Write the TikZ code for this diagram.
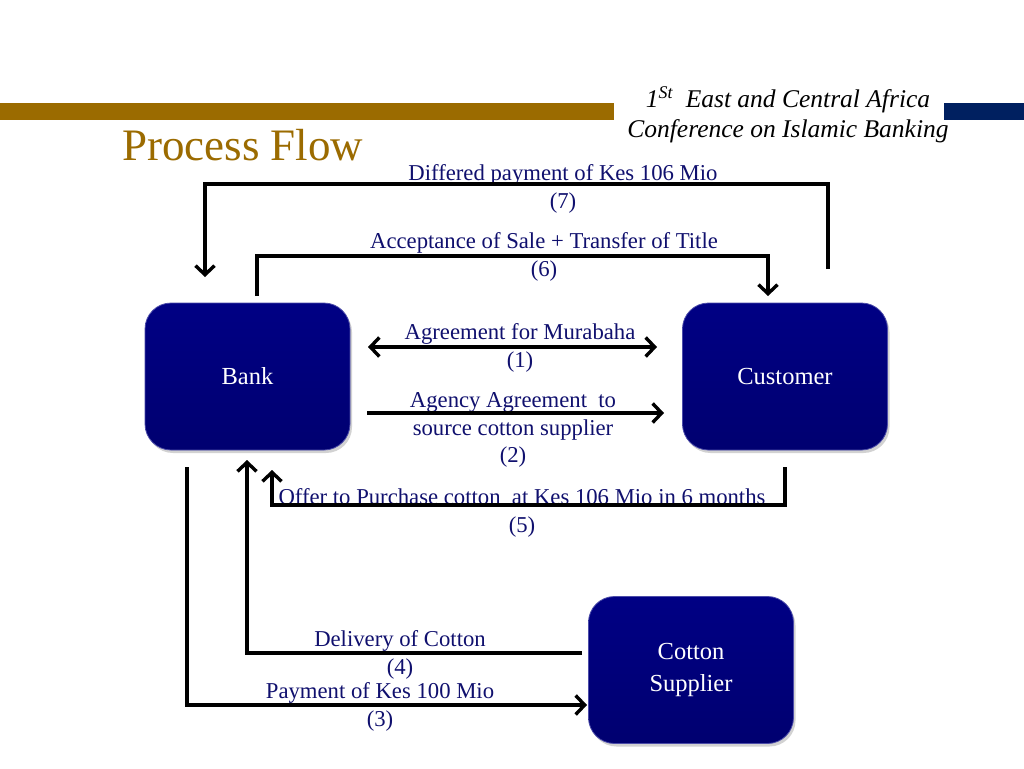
\documentclass[tikz,border=0pt]{standalone}
\usepackage{fontspec}
\setmainfont{Liberation Serif}
\usetikzlibrary{arrows.meta,shadows}
\definecolor{goldbar}{RGB}{155,107,0}
\definecolor{bluebar}{RGB}{0,32,96}
\definecolor{navytext}{RGB}{16,16,110}
\definecolor{boxtop}{RGB}{0,0,132}
\definecolor{boxbot}{RGB}{0,0,112}
\begin{document}
\begin{tikzpicture}[x=1pt,y=-1pt,
  entity/.style={rounded corners=26pt, minimum width=205pt, minimum height=147pt,
    top color=boxtop, bottom color=boxbot, draw=boxtop!70!white, line width=0.8pt,
    drop shadow={shadow xshift=2pt,shadow yshift=-3pt,opacity=0.35},
    text=white, font=\fontsize{24.5}{32}\selectfont, align=center, inner sep=0pt},
  lbl/.style={text=navytext, font=\fontsize{22.7}{27.5}\selectfont, align=center, inner sep=0pt},
  flow/.style={line width=3.8pt, line cap=butt},
  barb/.tip={Straight Barb[length=9pt,width=19pt,line width=3.4pt]},
  tip/.style={-barb},
]
\useasboundingbox[fill=white] (0,0) rectangle (1024,768);
% header bars
\fill[goldbar] (0,103) rectangle (614,120);
\fill[bluebar] (944,103) rectangle (1024,120);
\node[inner sep=0pt, align=center, font=\fontsize{25.5}{30}\selectfont\itshape] (hdr) at (788,115)
  {1\textsuperscript{St}\ \ East and Central Africa\\Conference on Islamic Banking};
\node[anchor=base west, inner sep=0pt, text=goldbar, font=\fontsize{45}{50}\selectfont] (title) at (122,160) {Process Flow};

% entities
\node[entity] (bank) at (247.5,376.5) {\raisebox{-2pt}{Bank}};
\node[entity] (cust) at (785,376.5) {\raisebox{-2pt}{Customer}};
\node[entity] (supp) at (691,670) {Cotton\\Supplier};

% labels
\node[lbl] (l7) at (563,189) {Differed payment of Kes 106 Mio\\(7)};
\node[lbl] (l6) at (544,257) {Acceptance of Sale + Transfer of Title\\(6)};
\node[lbl] (l1) at (520,348) {Agreement for Murabaha\\(1)};
\node[lbl] (l2) at (513,430) {Agency Agreement\ \ to\\source cotton supplier\\(2)};
\node[lbl] (l5) at (522,513) {Offer to Purchase cotton\ \ at Kes 106 Mio in 6 months\\(5)};
\node[lbl] (l4) at (400,655) {Delivery of Cotton\\(4)};
\node[lbl] (l3) at (380,707) {Payment of Kes 100 Mio\\(3)};

% coordinates
\coordinate (c7a) at (828,269);
\coordinate (c7b) at (828,184);
\coordinate (c7c) at (205,184);
\coordinate (c7d) at (205,277);
\coordinate (c6a) at (257,296);
\coordinate (c6b) at (257,256);
\coordinate (c6c) at (768,256);
\coordinate (c6d) at (768,296);
\coordinate (c1a) at (368,347);
\coordinate (c1b) at (657,347);
\coordinate (c2a) at (367,413);
\coordinate (c2b) at (664,413);
\coordinate (c5a) at (785,467);
\coordinate (c5b) at (785,505);
\coordinate (c5c) at (272,505);
\coordinate (c5d) at (272,470);
\coordinate (c3a) at (187,467);
\coordinate (c3b) at (187,705);
\coordinate (c3c) at (587,705);
\coordinate (c4a) at (582,653);
\coordinate (c4b) at (247,653);
\coordinate (c4c) at (247,460);

% connectors
\draw[flow,tip] (c7a) -- (c7b) -- (c7c) -- (c7d);
\draw[flow,tip] (c6a) -- (c6b) -- (c6c) -- (c6d);
\draw[flow,barb-barb] (c1a) -- (c1b);
\draw[flow,tip] (c2a) -- (c2b);
\draw[flow,tip] (c5a) -- (c5b) -- (c5c) -- (c5d);
\draw[flow,tip] (c3a) -- (c3b) -- (c3c);
\draw[flow,tip] (c4a) -- (c4b) -- (c4c);
\end{tikzpicture}
\end{document}
